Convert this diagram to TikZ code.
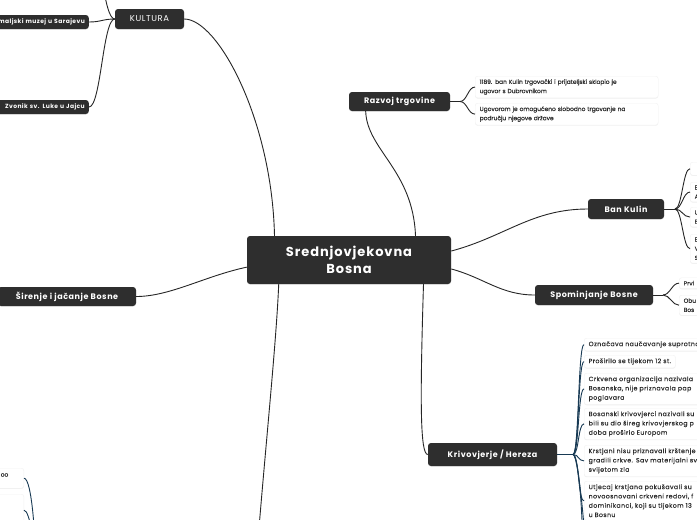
\documentclass[tikz,border=0pt]{standalone}
\usepackage{fontspec}
\setmainfont{Poppins}
\newfontfamily\topicfont[LetterSpace=7]{Poppins}
\newfontfamily\leaffont[FakeBold=0.4]{Poppins}
\newfontfamily\herezafont[FakeBold=0.4,LetterSpace=7]{Poppins}
\usepackage{tikz}
\usetikzlibrary{shadows}
\definecolor{topicdark}{RGB}{46,46,46}
\definecolor{linkgray}{RGB}{38,38,38}
\definecolor{herezanavy}{RGB}{24,58,84}
\definecolor{leafink}{RGB}{45,45,45}

\begin{document}
\begin{tikzpicture}[x=1pt,y=-1pt]
\tikzstyle{topic}=[fill=topicdark,text=white,rounded corners=3pt,inner sep=0pt,font=\topicfont\bfseries\fontsize{8}{10}\selectfont,drop shadow={shadow xshift=0pt,shadow yshift=-0.7pt,opacity=0.18}]
\tikzstyle{leaf}=[fill=white,draw=black!5,rounded corners=2.5pt,text=leafink,inner xsep=4.5pt,inner ysep=3.2pt,align=left,font=\leaffont\fontsize{5.9}{9.2}\selectfont,drop shadow={shadow xshift=0pt,shadow yshift=-0.7pt,opacity=0.12}]
\tikzstyle{hereza}=[leaf,font=\herezafont\fontsize{6.2}{9.3}\selectfont]
\tikzstyle{link}=[draw=linkgray,line width=0.9pt]
\tikzstyle{navylink}=[draw=herezanavy,line width=0.9pt]

\useasboundingbox (0,0) rectangle (697,520);
\clip (0,0) rectangle (697,520);
\fill[white] (0,0) rectangle (697,520);

% central topic
\node[topic,minimum width=204pt,minimum height=48pt,align=center,font=\topicfont\bfseries\fontsize{13}{17}\selectfont] (root) at (349,260) {Srednjovjekovna\\Bosna};

% main topics
\node[topic,minimum width=69pt,minimum height=20pt,font=\topicfont\fontsize{8.5}{10}\selectfont] (kultura) at (149.5,19) {KULTURA};
\node[topic,minimum width=101pt,minimum height=19pt] (razvoj) at (399.5,101.5) {Razvoj trgovine};
\node[topic,minimum width=76pt,minimum height=20pt] (kulin) at (626,209) {Ban Kulin};
\node[topic,minimum width=118pt,minimum height=20pt] (spom) at (594,295) {Spominjanje Bosne};
\node[topic,minimum width=129pt,minimum height=23pt] (kriv) at (492.5,454.5) {Krivovjerje / Hereza};
\node[topic,minimum width=138pt,minimum height=19pt] (sirenje) at (67,296.5) {Širenje i jačanje Bosne};

% KULTURA
\node[topic,anchor=east,minimum height=14pt,text width=100pt,align=right,inner xsep=4pt,font=\topicfont\bfseries\fontsize{6}{7}\selectfont] (muzej) at (89,22) {maljski muzej u Sarajevu};
\node[topic,anchor=east,minimum height=14pt,text width=90pt,align=right,inner xsep=4pt,font=\topicfont\bfseries\fontsize{6}{7}\selectfont] (zvonik) at (89,107) {Zvonik sv. Luke u Jajcu};
\coordinate (kultop) at (89,-60);

% Razvoj trgovine
\node[leaf,anchor=north west,text width=174pt] (r1) at (475,76) {1189. ban Kulin trgovački i prijateljski sklopio je\\ugovor s Dubrovnikom};
\node[leaf,anchor=north west,text width=174pt] (r2) at (475,103) {Ugovorom je omogućeno slobodno trgovanje na\\području njegove države};
\coordinate (rhub) at (460,101.5);

% Ban Kulin
\node[leaf,anchor=north west,text width=60pt,minimum height=13pt] (bk1) at (690,162) {};
\node[leaf,anchor=north west,text width=60pt] (bk2) at (690,182) {E\\A};
\node[leaf,anchor=north west,text width=60pt] (bk3) at (690,207) {U\\E};
\node[leaf,anchor=north west,text width=60pt] (bk4) at (690,234) {E\\V\\S};
\coordinate (bkhub) at (675,209);

% Spominjanje Bosne
\node[leaf,anchor=north west,text width=60pt] (sp1) at (679,277.5) {Prvi};
\node[leaf,anchor=north west,text width=60pt] (sp2) at (679,295) {Obu\\Bos};
\coordinate (sphub) at (663,295);

% Krivovjerje / Hereza
\node[hereza,anchor=north west,text width=150pt] (kh1) at (584,338) {Označava naučavanje suprotno};
\node[hereza,anchor=north west] (kh2) at (584,355) {Proširilo se tijekom 12 st.};
\node[hereza,anchor=north west,text width=150pt] (kh3) at (584,373) {Crkvena organizacija nazivala\\Bosanska, nije priznavala pap\\poglavara};
\node[hereza,anchor=north west,text width=150pt] (kh4) at (584,408) {Bosanski krivovjerci nazivali su\\bili su dio šireg krivovjerskog p\\doba proširio Europom};
\node[hereza,anchor=north west,text width=150pt] (kh5) at (584,445) {Krstjani nisu priznavali krštenje\\gradili crkve. Sav materijalni sv\\svijetom zla};
\node[hereza,anchor=north west,text width=150pt] (kh6) at (584,481) {Utjecaj krstjana pokušavali su\\novoosnovani crkveni redovi, f\\dominikanci, koji su tijekom 13\\u Bosnu};
\coordinate (khhub) at (573,454.5);
\coordinate (khoff1) at (583,560);
\coordinate (khoff2) at (588,600);

% bottom left branch
\node[leaf,anchor=north east,minimum width=50pt,minimum height=20pt] (bl1) at (24,468) {};
\node[text=leafink,anchor=east,inner sep=0pt,font=\leaffont\fontsize{5.9}{9.2}\selectfont] (bl1text) at (8.5,475) {oo};
\node[leaf,anchor=north east,minimum width=50pt,minimum height=32pt] (bl2) at (24,494) {};
\coordinate (bloff) at (36,580);
\coordinate (rootoff) at (255,580);

% connectors from the centre
\draw[link] (root.162.3) .. controls (272,120) and (218,19) .. (kultura.east);
\draw[link] (root.20.6) .. controls (413,170) and (367,150) .. (razvoj.196.3);
\draw[link] (root.5.6) to[out=15,in=180] (kulin.west);
\draw[link] (root.-5.6) to[out=-15,in=180] (spom.west);
\draw[link] (root.-18.9) .. controls (420,400) and (420,454.5) .. (kriv.west);
\draw[link] (root.-161.3) .. controls (276,350) and (262,480) .. (rootoff);
\draw[link] (root.184) .. controls (205,276) and (170,296.5) .. (sirenje.east);

% KULTURA children
\draw[link] (kultura.west) .. controls +(-12,0) and +(12,0) .. (muzej.east);
\draw[link] (kultura.west) .. controls +(-12,0) and +(12,0) .. (zvonik.east);
\draw[link] (kultura.west) .. controls +(-12,0) and +(12,0) .. (kultop);

% Razvoj children
\draw[link] (razvoj.east) -- (rhub);
\draw[link] (rhub) .. controls +(7,0) and +(-7,0) .. (r1.west);
\draw[link] (rhub) .. controls +(7,0) and +(-7,0) .. (r2.west);

% Ban Kulin children
\draw[link] (kulin.east) -- (bkhub);
\draw[link] (bkhub) .. controls +(7,0) and +(-7,0) .. (bk1.west);
\draw[link] (bkhub) .. controls +(7,0) and +(-7,0) .. (bk2.west);
\draw[link] (bkhub) .. controls +(7,0) and +(-7,0) .. (bk3.west);
\draw[link] (bkhub) .. controls +(7,0) and +(-7,0) .. (bk4.west);

% Spominjanje children
\draw[link] (spom.east) -- (sphub);
\draw[link] (sphub) .. controls +(7,0) and +(-7,0) .. (sp1.west);
\draw[link] (sphub) .. controls +(7,0) and +(-7,0) .. (sp2.west);

% Krivovjerje children
\draw[navylink,line width=1.5pt] (kriv.east) -- (khhub);
\draw[navylink] (khhub) .. controls +(6,0) and +(-6,0) .. (kh1.west);
\draw[navylink] (khhub) .. controls +(6,0) and +(-6,0) .. (kh2.west);
\draw[navylink] (khhub) .. controls +(6,0) and +(-6,0) .. (kh3.west);
\draw[navylink] (khhub) .. controls +(6,0) and +(-6,0) .. (kh4.west);
\draw[navylink] (khhub) .. controls +(6,0) and +(-6,0) .. (kh5.west);
\draw[navylink] (khhub) .. controls +(6,0) and +(-6,0) .. (kh6.west);
\draw[navylink] (khhub) .. controls +(6,0) and +(0,-40) .. (khoff1);
\draw[navylink] (khhub) .. controls +(6,0) and +(0,-40) .. (khoff2);

% bottom left children
\draw[navylink] (bl1.east) .. controls +(8,0) and +(0,-40) .. (bloff);
\draw[navylink] (bl2.east) .. controls +(6,0) and +(0,-30) .. (bloff);
\end{tikzpicture}
\end{document}
